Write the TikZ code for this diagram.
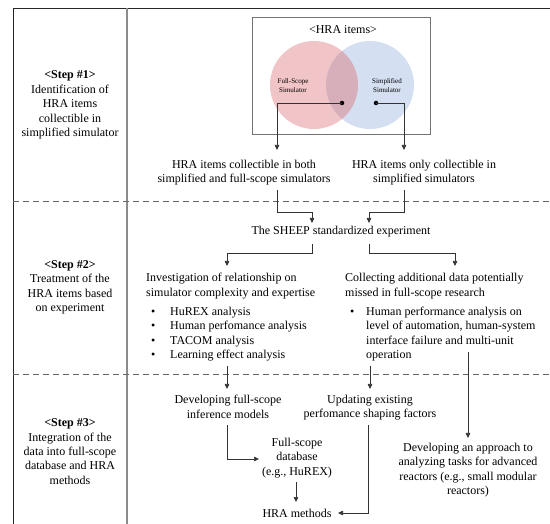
\documentclass[tikz,border=0pt]{standalone}
\usepackage{fontspec}
\setmainfont{Liberation Serif}
\usetikzlibrary{arrows.meta}
\definecolor{pinkc}{RGB}{241,196,199}
\definecolor{bluec}{RGB}{213,223,242}
\definecolor{overc}{RGB}{215,175,187}
\begin{document}
\begin{tikzpicture}[x=1pt,y=-1pt,
  txt/.style={font=\fontsize{12}{14.4}\selectfont, align=center, inner sep=0pt},
  txtl/.style={font=\fontsize{12}{14.4}\selectfont, align=left, inner sep=0pt, anchor=west},
  small/.style={font=\fontsize{7}{8.4}\selectfont, align=center, inner sep=0pt},
  arr/.style={-{Triangle[length=5pt,width=4.5pt]}, line width=0.7pt, draw=black!80},
  frameline/.style={line width=0.9pt, draw=black!85},
  divider/.style={line width=1.4pt, draw=black!45},
  sepline/.style={dash pattern=on 6pt off 4pt, line width=0.8pt, draw=black!60},
  dotn/.style={circle, fill=black, inner sep=0pt, minimum size=4.5pt}]
\useasboundingbox (0,0) rectangle (550,524);
% frame
\draw[frameline] (13,524) -- (13,8) -- (550,8);
\draw[divider] (127,8) -- (127,524);
\draw[sepline] (13,201) -- (550,201);
\draw[sepline] (13,374) -- (550,374);
% step labels
\node[txt] (s1) at (70,105) {\textbf{<Step \#1>}\\Identification of\\HRA items\\collectible in\\simplified simulator};
\node[txt] (s2) at (70,287.5) {\textbf{<Step \#2>}\\Treatment of the\\HRA items based\\on experiment};
\node[txt] (s3) at (70,451.5) {\textbf{<Step \#3>}\\Integration of the\\data into full-scope\\database and HRA\\methods};
% Venn
\draw[line width=0.9pt, draw=black!55] (252,17) rectangle (430,134);
\node[txt] (hra) at (343,30) {<HRA items>};
\fill[pinkc] (314,85) circle (44);
\fill[bluec] (370,85) circle (44);
\begin{scope}
  \clip (314,85) circle (44);
  \fill[overc] (370,85) circle (44);
\end{scope}
\node[small] (fs) at (293,85.5) {Full-Scope\\Simulator};
\node[small] (ss) at (387,85.5) {Simplified\\Simulator};
\node[dotn] (d1) at (342,103) {};
\node[dotn] (d2) at (376,103) {};
% step 1 outputs
\node[txt] (both) at (244,172.5) {HRA items collectible in both\\simplified and full-scope simulators};
\node[txt] (only) at (424,172.5) {HRA items only collectible in\\simplified simulators};
\coordinate (a1) at (277,150);
\coordinate (a2) at (404,150);
\draw[arr] (d1.center) -| (a1);
\draw[arr] (d2.center) -| (a2);
% SHEEP
\node[txt] (sheep) at (341,232) {The SHEEP standardized experiment};
\coordinate (b1) at (277,190);
\coordinate (b2) at (404,190);
\coordinate (b1e) at (312,223);
\coordinate (b2e) at (369,223);
\draw[arr] (b1) |- (312,212) -- (b1e);
\draw[arr] (b2) |- (369,212) -- (b2e);
% step 2 contents
\coordinate (c1) at (312,244);
\coordinate (c2) at (369,244);
\coordinate (c1e) at (227,266);
\coordinate (c2e) at (455,266);
\draw[arr] (c1) |- (227,253) -- (c1e);
\draw[arr] (c2) |- (455,253) -- (c2e);
\node[txtl] (inv) at (146,286) {Investigation of relationship on\\simulator complexity and expertise};
\node[txtl] (invl) at (146,334) {\makebox[24pt][l]{\hspace*{5pt}\textbullet}HuREX analysis\\
\makebox[24pt][l]{\hspace*{5pt}\textbullet}Human perfomance analysis\\
\makebox[24pt][l]{\hspace*{5pt}\textbullet}TACOM analysis\\
\makebox[24pt][l]{\hspace*{5pt}\textbullet}Learning effect analysis};
\node[txtl] (col) at (345,286) {Collecting additional data potentially\\missed in full-scope research};
\node[txtl] (coll) at (345,334) {\makebox[21pt][l]{\hspace*{5pt}\textbullet}Human performance analysis on\\
\hspace*{21pt}level of automation, human-system\\
\hspace*{21pt}interface failure and multi-unit\\
\hspace*{21pt}operation};
% step 2 -> 3
\coordinate (e1) at (227,366);
\coordinate (e2) at (370,366);
\coordinate (e3) at (468,352);
\coordinate (e1e) at (227,389);
\coordinate (e2e) at (370,389);
\coordinate (e3e) at (468,438);
\draw[arr] (e1) -- (e1e);
\draw[arr] (e2) -- (e2e);
\draw[arr] (e3) -- (e3e);
% step 3
\node[txt] (dev) at (228,407) {Developing full-scope\\inference models};
\node[txt] (upd) at (370,407.5) {Updating existing\\perfomance shaping factors};
\node[txt] (db) at (297,458) {Full-scope\\database\\(e.g., HuREX)};
\node[txt] (hram) at (297,513) {HRA methods};
\node[txt] (adv) at (468,470) {Developing an approach to\\analyzing tasks for advanced\\reactors (e.g., small modular\\reactors)};
\coordinate (f1) at (227,425);
\coordinate (f1e) at (259,459);
\coordinate (g1) at (296,482);
\coordinate (g1e) at (296,502);
\coordinate (h1) at (368,425);
\coordinate (h1e) at (338,513);
\draw[arr] (f1) |- (f1e);
\draw[arr] (g1) -- (g1e);
\draw[arr] (h1) |- (h1e);
\end{tikzpicture}
\end{document}
